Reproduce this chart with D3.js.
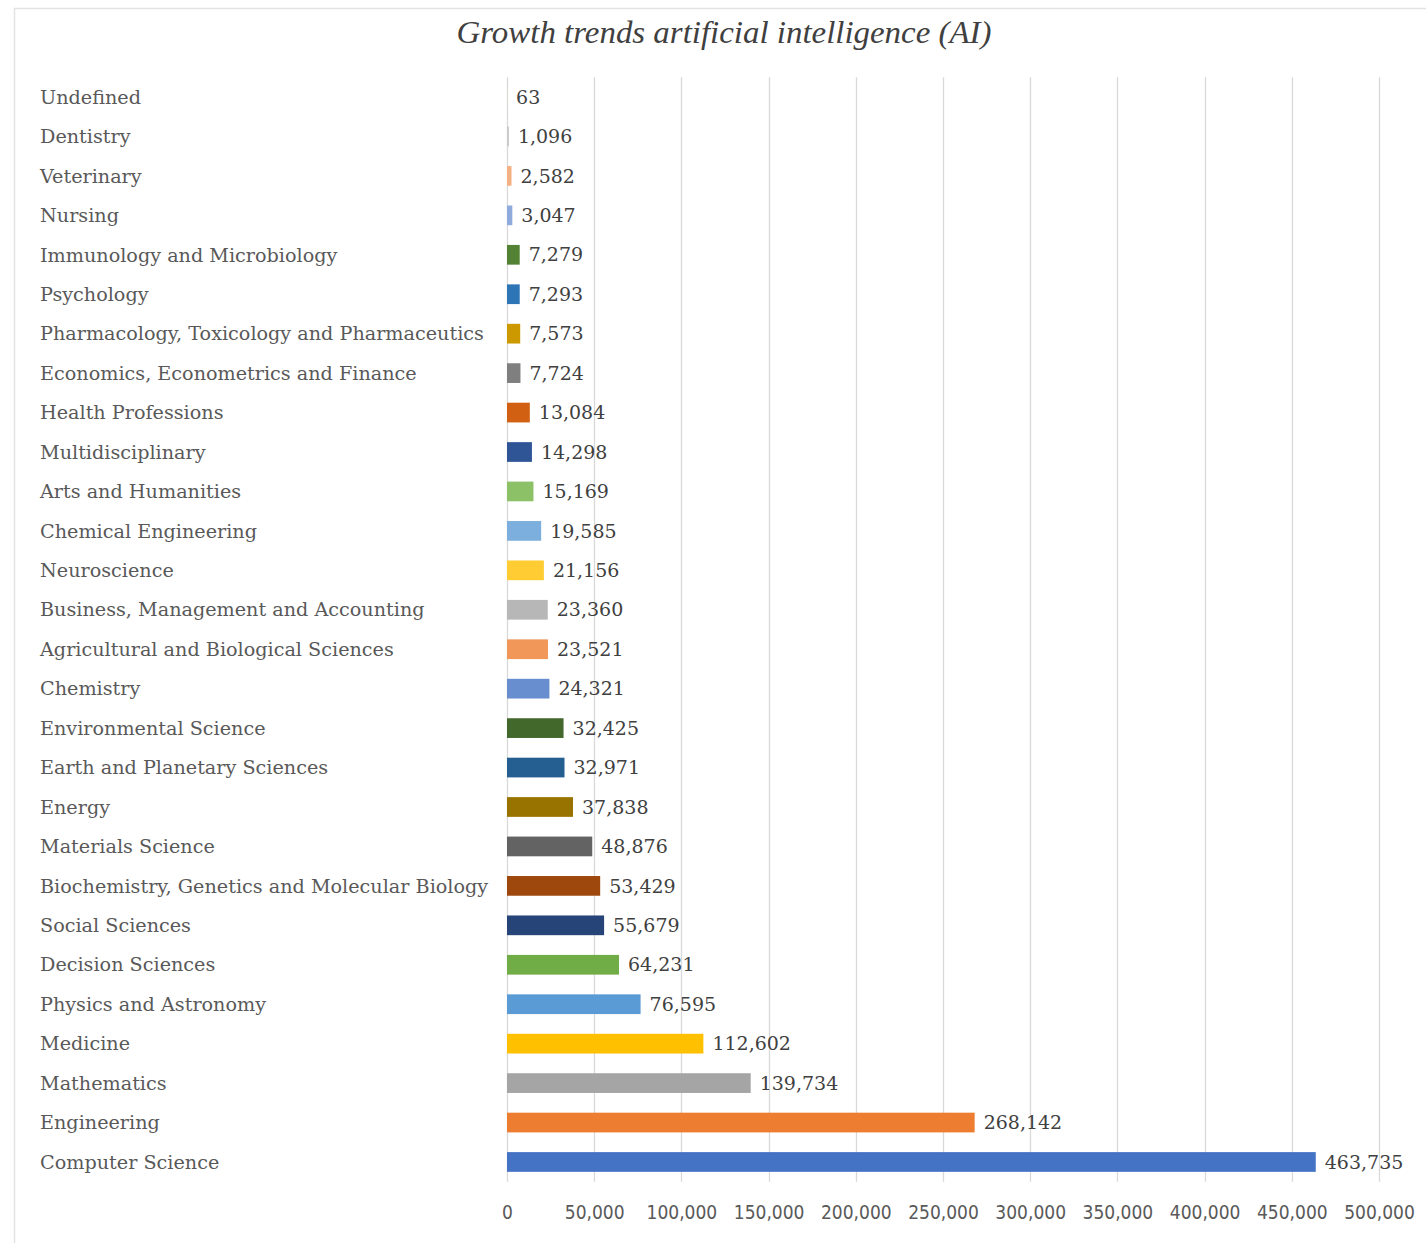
<!DOCTYPE html>
<html>
<head>
<meta charset="utf-8">
<script src="https://cdn.jsdelivr.net/npm/d3@7"></script>
<style>
  html, body { margin: 0; padding: 0; background: #fff; }
  svg { display: block; }
</style>
</head>
<body>
<svg id="chart" width="1426" height="1243"></svg>
<script>
// Subject areas, listed top to bottom
const categories = [
  "Undefined", "Dentistry", "Veterinary", "Nursing", "Immunology and Microbiology",
  "Psychology", "Pharmacology, Toxicology and Pharmaceutics", "Economics, Econometrics and Finance",
  "Health Professions", "Multidisciplinary", "Arts and Humanities", "Chemical Engineering",
  "Neuroscience", "Business, Management and Accounting", "Agricultural and Biological Sciences",
  "Chemistry", "Environmental Science", "Earth and Planetary Sciences", "Energy",
  "Materials Science", "Biochemistry, Genetics and Molecular Biology", "Social Sciences",
  "Decision Sciences", "Physics and Astronomy", "Medicine", "Mathematics", "Engineering",
  "Computer Science"
];

// Document counts per subject area
const values = [
  63, 1096, 2582, 3047, 7279, 7293, 7573, 7724, 13084, 14298, 15169, 19585,
  21156, 23360, 23521, 24321, 32425, 32971, 37838, 48876, 53429, 55679,
  64231, 76595, 112602, 139734, 268142, 463735
];

// Axis tick values
const tickValues = [0, 50000, 100000, 150000, 200000, 250000, 300000, 350000, 400000, 450000, 500000];

// Bar palette, one per subject area
const palette = [
  "#FFE699", "#C9C9C9", "#F4B183", "#8FAADC", "#548235", "#2E75B6", "#CC9A00", "#7F7F7F",
  "#D26012", "#2F5597", "#8CC168", "#7CAFDD", "#FFCD33", "#B7B7B7", "#F1975A", "#698ED0",
  "#43682B", "#255E91", "#997300", "#636363", "#9E480E", "#264478", "#70AD47", "#5B9BD5",
  "#FFC000", "#A5A5A5", "#ED7D31", "#4472C4"
];

const title = "Growth trends artificial intelligence (AI)";

const data = categories.map((c, i) => ({ name: c, value: values[i], color: palette[i] }));

const svg = d3.select("#chart");
const W = 1426, H = 1243;

// chart area frame
svg.append("rect")
  .attr("x", 14.5).attr("y", 8.5)
  .attr("width", W + 20).attr("height", H + 20)
  .attr("fill", "#fff")
  .attr("stroke", "#e3e3e3")
  .attr("stroke-width", 1.5);

const x = d3.scaleLinear().domain([0, 500000]).range([507, 1379]);
const y = d3.scaleBand().domain(categories).range([77.3, 1181.7])
  .paddingInner(0.5).paddingOuter(0.25);

// gridlines
svg.append("g")
  .selectAll("line")
  .data(tickValues)
  .join("line")
  .attr("x1", d => Math.round(x(d)) + 0.5)
  .attr("x2", d => Math.round(x(d)) + 0.5)
  .attr("y1", y.range()[0])
  .attr("y2", y.range()[1])
  .attr("stroke", "#d9d9d9")
  .attr("stroke-width", 1.3);

// x axis labels
const xAxis = d3.axisBottom(x)
  .tickValues(tickValues)
  .tickSize(0)
  .tickPadding(0)
  .tickFormat(d3.format(","));

const gx = svg.append("g")
  .attr("transform", "translate(0,1219)")
  .call(xAxis);
gx.select(".domain").remove();
gx.selectAll("text")
  .attr("dy", 0)
  .attr("fill", "#595959")
  .style("font-family", "'DejaVu Sans', sans-serif")
  .style("font-stretch", "condensed")
  .style("font-size", "19px");

// bars
svg.append("g")
  .selectAll("rect")
  .data(data)
  .join("rect")
  .attr("x", x(0))
  .attr("y", d => y(d.name))
  .attr("width", d => x(d.value) - x(0))
  .attr("height", y.bandwidth())
  .attr("fill", d => d.color);

// category labels
svg.append("g")
  .selectAll("text")
  .data(data)
  .join("text")
  .attr("x", 40)
  .attr("y", d => y(d.name) + y.bandwidth() / 2)
  .attr("dy", "0.35em")
  .attr("fill", "#595959")
  .style("font-family", "'DejaVu Serif', serif")
  .style("font-size", "19.2px")
  .text(d => d.name);

// value labels
svg.append("g")
  .selectAll("text")
  .data(data)
  .join("text")
  .attr("x", d => x(d.value) + 9)
  .attr("y", d => y(d.name) + y.bandwidth() / 2)
  .attr("dy", "0.35em")
  .attr("fill", "#404040")
  .style("font-family", "'DejaVu Serif', serif")
  .style("font-size", "19px")
  .text(d => d3.format(",")(d.value));

// title
svg.append("text")
  .attr("x", 724)
  .attr("y", 43)
  .attr("text-anchor", "middle")
  .attr("fill", "#404040")
  .attr("textLength", 535)
  .attr("lengthAdjust", "spacingAndGlyphs")
  .style("font-family", "'Liberation Serif', serif")
  .style("font-style", "italic")
  .style("font-size", "32px")
  .text(title);
</script>
</body>
</html>
